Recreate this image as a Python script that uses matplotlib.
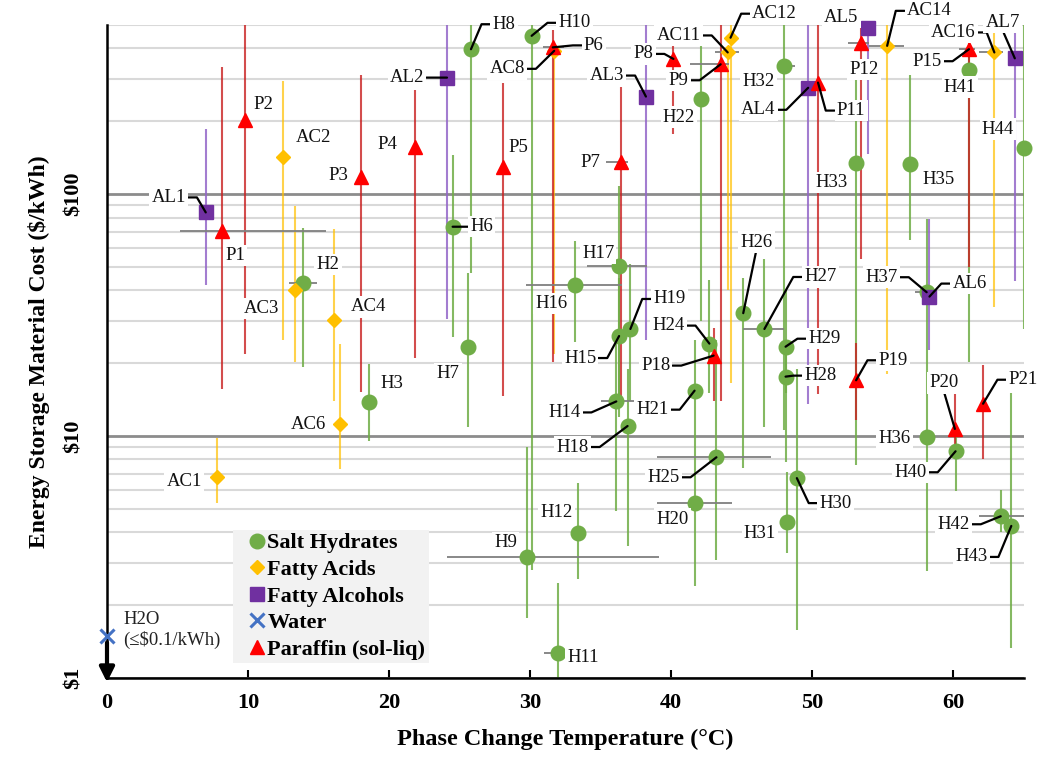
import matplotlib.pyplot as plt
from matplotlib.ticker import NullFormatter

plt.rcParams['font.family'] = ['Liberation Serif', 'DejaVu Serif']

# ---- data (temperature in C, cost in $/kWh, vertical and horizontal ranges) ----
hyd_names = ['H2', 'H3', 'H6', 'H7', 'H8', 'H9', 'H10', 'H11', 'H12', 'H14',
             'H15', 'H16', 'H17', 'H18', 'H19', 'H20', 'H21', 'H22', 'H24', 'H25',
             'H26', 'H27', 'H28', 'H29', 'H30', 'H31', 'H32', 'H33', 'H35', 'H36',
             'H37', 'H40', 'H41', 'H42', 'H43', 'H44']
hyd_temp = [13.9, 18.6, 24.5, 25.6, 25.8, 29.8, 30.1, 32.0, 33.4, 36.1,
            36.3, 33.2, 36.3, 36.9, 37.1, 41.7, 41.65, 42.1, 42.7, 43.2,
            45.1, 46.6, 48.1, 48.1, 48.9, 48.2, 48.0, 53.1, 56.95, 58.1,
            58.1, 60.15, 61.1, 63.35, 64.1, 65.0]
hyd_cost = [42.8, 13.8, 73.3, 23.4, 397, 3.17, 451, 1.27, 3.96, 13.9,
            25.9, 42.2, 50.3, 11.0, 27.7, 5.28, 15.4, 247, 24.1, 8.17,
            32.2, 27.7, 17.6, 23.4, 6.7, 4.42, 337, 135, 133, 9.9,
            39.3, 8.65, 325, 4.66, 4.25, 155]
hyd_lo = [19.2, 9.5, 25.6, 10.9, 47, 1.77, 2.8, 0.8, 2.56, 4.9,
          12, 24.4, 14, 3.5, 14, 2.4, 8.5, 30, 15, 3.07,
          7.4, 10.9, 7.8, 15, 1.58, 3.3, 10.6, 7.6, 64.6, 2.76,
          20.3, 5.9, 20.3, 4.03, 1.33, 27.6]
hyd_hi = [72.6, 19.9, 145, 47, 500, 9.0, 500, 2.47, 6.4, 27,
          45, 64, 108, 19, 51.5, 8.5, 25, 500, 44, 25,
          44.8, 54, 25, 40, 19, 7.1, 500, 318, 312, 20.3,
          79, 10, 400, 6.0, 15.1, 500]

ac_names = ['AC1', 'AC2', 'AC3', 'AC4', 'AC6', 'AC8', 'AC11', 'AC12', 'AC14', 'AC16']
ac_temp = [7.8, 12.5, 13.3, 16.1, 16.55, 31.7, 44.0, 44.2, 55.3, 62.9]
ac_cost = [6.78, 143, 40, 30.2, 11.25, 391, 385, 443, 410, 385]
ac_lo = [5.27, 25, 20.3, 13.9, 7.3, 21.9, 40, 16.5, 18.1, 34.2]
ac_hi = [9.8, 294, 89.6, 72, 23.9, 400, 400, 500, 500, 500]

al_names = ['AL1', 'AL2', 'AL3', 'AL4', 'AL5', 'AL6', 'AL7']
al_temp = [7.0, 24.1, 38.2, 49.7, 53.95, 58.3, 64.35]
al_cost = [84, 303, 253, 275, 484, 37.7, 364]
al_lo = [41.9, 30.6, 24.9, 13.6, 146, 22.6, 43.6]
al_hi = [186, 500, 500, 500, 500, 79, 500]

p_names = ['P1', 'P2', 'P3', 'P4', 'P5', 'P6', 'P7', 'P8', 'P9', 'P11',
           'P12', 'P15', 'P18', 'P19', 'P20', 'P21']
p_temp = [8.15, 9.8, 18.0, 21.8, 28.1, 31.6, 36.4, 40.15, 43.5, 50.4,
          53.45, 61.1, 43.0, 53.1, 60.1, 62.1]
p_cost = [70.6, 202, 118, 157, 130, 404, 136, 362, 344, 289,
          420, 397, 21.5, 17.0, 10.7, 13.6]
p_lo = [15.7, 21.9, 15.2, 21.1, 14.6, 20.2, 14.7, 177, 14, 14.9,
        53.9, 50, 14, 11.7, 8.0, 8.0]
p_hi = [334, 500, 312, 270, 288, 476, 276, 500, 500, 500,
        500, 500, 27.9, 24.3, 14.9, 19.6]

water_temp = [0]
water_cost = [1.49]

# horizontal (temperature) ranges
hbar_names = ['P1', 'H2', 'H9', 'H11', 'H14', 'H16', 'H17', 'H20', 'H25', 'H27',
              'H32', 'H37', 'H42', 'AC11', 'AC14', 'P6', 'P7', 'P9', 'P12', 'P15', 'AC16']
hbar_lo = [5.2, 12.9, 24.1, 31.0, 35.0, 29.7, 34.0, 39.0, 39.0, 45.1,
           47.5, 57.3, 61.8, 43.1, 54.0, 30.9, 35.4, 41.3, 52.5, 60.4, 61.8]
hbar_hi = [15.5, 14.9, 39.1, 32.0, 38.1, 36.5, 38.3, 44.3, 47.1, 48.0,
           48.8, 58.1, 65.0, 44.8, 56.5, 32.4, 36.9, 44.1, 54.0, 61.5, 63.5]

# label placement: offset in pixels from the point, leader side
label_pos = {
    'H2': (25, 19, None), 'H3': (22, 19, None), 'H6': (29, 0, 'l'),
    'H7': (-20, -27, None), 'H8': (33, 25, 'l'), 'H9': (-22, 14, None),
    'H10': (43, 13, 'l'), 'H11': (25, -5, None), 'H12': (-22, 21, None),
    'H14': (-52, -11, 'r'), 'H15': (-39, -22, 'r'), 'H16': (-24, -19, None),
    'H17': (-21, 13, None), 'H18': (-55, -21, 'r'), 'H19': (39, 30, 'l'),
    'H20': (-23, -16, None), 'H21': (-42, -19, 'r'), 'H22': (-22, -18, None),
    'H24': (-41, 18, 'r'), 'H25': (-53, -20, 'r'), 'H26': (13, 71, 'b'),
    'H27': (56, 52, 'l'), 'H28': (35, 1, 'l'), 'H29': (39, 8, 'l'),
    'H30': (39, -25, 'l'), 'H31': (-27, -12, None), 'H32': (-26, -15, None),
    'H33': (-25, -20, None), 'H35': (28, -15, None), 'H36': (-32, -1, None),
    'H37': (-45, 15, 'r'), 'H40': (-45, -21, 'r'), 'H41': (-9, -17, None),
    'H42': (-47, -8, 'r'), 'H43': (-40, -31, 'r'), 'H44': (-26, 19, None),
    'AC1': (-33, -5, None), 'AC2': (30, 19, None), 'AC3': (-33, -18, None),
    'AC4': (34, 13, None), 'AC6': (-32, -1, None), 'AC8': (-47, -18, 'r'),
    'AC11': (-49, 17, 'r'), 'AC12': (44, 24, 'l'), 'AC14': (42, 35, 'l'),
    'AC16': (-41, 20, 'r'),
    'AL1': (-37, 15, 'r'), 'AL2': (-40, 0, 'r'), 'AL3': (-39, 21, 'r'),
    'AL4': (-50, -22, 'r'), 'AL5': (-27, 11, None), 'AL6': (40, 13, 'l'),
    'AL7': (-12, 36, 'b'),
    'P1': (13, -25, None), 'P2': (18, 16, None), 'P3': (-23, 1, None),
    'P4': (-27, 2, None), 'P5': (15, 19, None), 'P6': (41, 2, 'l'),
    'P7': (-30, -1, None), 'P8': (-30, 5, 'r'), 'P9': (-42, -16, 'r'),
    'P11': (33, -28, 'l'), 'P12': (3, -26, None), 'P15': (-42, -12, 'r'),
    'P18': (-58, -10, 'r'), 'P19': (37, 20, 'l'), 'P20': (-11, 46, 'b'),
    'P21': (40, 24, 'l'),
}

series = [
    (hyd_names, hyd_temp, hyd_cost, hyd_lo, hyd_hi, 'o', 10.5, '#70ad47', '#70ad47', 0.85, 'Salt Hydrates'),
    (ac_names, ac_temp, ac_cost, ac_lo, ac_hi, 'D', 7.5, '#ffc000', '#ffc000', 0.7, 'Fatty Acids'),
    (al_names, al_temp, al_cost, al_lo, al_hi, 's', 10.5, '#7030a0', '#9366c8', 0.85, 'Fatty Alcohols'),
    (p_names, p_temp, p_cost, p_lo, p_hi, '^', 10.5, '#ff0000', '#c82020', 0.8, 'Paraffin (sol-liq)'),
]

fig = plt.figure(figsize=(10.51, 7.64), dpi=100)
ax = fig.add_axes([0.1018, 0.1126, 0.8725, 0.8547])
ax.set_yscale('log')
ax.set_xlim(0, 65)
ax.set_ylim(1, 500)

# gridlines
minor = [m * d for d in (1, 10) for m in range(2, 10)] + [200, 300, 400, 500]
ax.set_yticks([1, 10, 100])
ax.set_yticks(minor, minor=True)
ax.yaxis.set_minor_formatter(NullFormatter())
ax.set_yticklabels(['$1', '$10', '$100'], rotation=90, va='center',
                   fontsize=16, fontweight='bold')
ax.tick_params(axis='y', which='both', length=0, pad=17)
ax.grid(axis='y', which='major', color='#8c8c8c', lw=2)
ax.grid(axis='y', which='minor', color='#d9d9d9', lw=1.5)
ax.set_axisbelow(True)

ax.set_xticks(range(0, 61, 10))
ax.set_xticklabels([str(v) for v in range(0, 61, 10)], fontsize=16, fontweight='bold')
ax.tick_params(axis='x', direction='in', length=6, width=1.5, pad=11)
for s in ['top', 'right']:
    ax.spines[s].set_visible(False)
for s in ['left', 'bottom']:
    ax.spines[s].set_linewidth(1.8)
    ax.spines[s].set_color('black')

# vertical ranges and markers
lookup = {}
handles = []
for names, temp, cost, lo, hi, mk, ms, col, lcol, la, lab in series:
    ax.vlines(temp, lo, hi, colors=lcol, lw=1.5, alpha=la, zorder=2)
    for n, t, c in zip(names, temp, cost):
        lookup[n] = (t, c)

# horizontal ranges
hb_y = [lookup[n][1] for n in hbar_names]
ax.hlines(hb_y, hbar_lo, hbar_hi, colors='#7f7f7f', lw=1.3, zorder=2)

for names, temp, cost, lo, hi, mk, ms, col, lcol, la, lab in series:
    h, = ax.plot(temp, cost, ls='none', marker=mk, ms=ms, color=col, mec=col,
                 zorder=3, clip_on=False, label=lab)
    handles.append(h)

hw, = ax.plot(water_temp, water_cost, ls='none', marker='x', ms=10, mew=2.2,
              color='#4472c4', zorder=4, clip_on=False, label='Water')
handles.insert(3, hw)

# water arrow and note
ax.annotate('', xy=(water_temp[0], 0.96), xytext=(water_temp[0], 1.4),
            arrowprops=dict(arrowstyle='-|>', lw=3, color='black', mutation_scale=22,
                            shrinkA=0, shrinkB=0),
            annotation_clip=False, zorder=5)
ax.annotate('H2O\n(≤$0.1/kWh)', xy=(water_temp[0], water_cost[0]), xytext=(16, 6),
            textcoords='offset pixels', ha='left', va='center', fontsize=13.5,
            color='#222222', linespacing=1.15, zorder=5)

# point labels
for name, (dx, dy, side) in label_pos.items():
    t, c = lookup[name]
    kw = dict(xy=(t, c), xytext=(dx, dy), textcoords='offset pixels',
              ha='center', va='center', fontsize=13.5, color='#111111',
              bbox=dict(boxstyle='square,pad=0.12', fc='white', ec='none'),
              zorder=6, annotation_clip=False)
    if side == 'r':
        kw['arrowprops'] = dict(arrowstyle='-', color='black', lw=1.6, shrinkA=0, shrinkB=0,
                                relpos=(1, 0.5), connectionstyle='arc,angleA=0,armA=11,rad=0')
    elif side == 'l':
        kw['arrowprops'] = dict(arrowstyle='-', color='black', lw=1.6, shrinkA=0, shrinkB=0,
                                relpos=(0, 0.5), connectionstyle='arc,angleA=180,armA=11,rad=0')
    elif side == 'b':
        kw['arrowprops'] = dict(arrowstyle='-', color='black', lw=1.6, shrinkA=0, shrinkB=0,
                                relpos=(0.5, 0), connectionstyle='arc3,rad=0')
    ax.annotate(name, **kw)

leg = ax.legend(handles=handles, loc='lower left', bbox_to_anchor=(0.137, 0.023),
                borderaxespad=0, frameon=True, fancybox=False, framealpha=1,
                facecolor='#f2f2f2', edgecolor='none', handlelength=1.85,
                handletextpad=-0.44, labelspacing=0.27, borderpad=0.15,
                prop={'weight': 'bold', 'size': 16})
leg.set_zorder(7)

ax.set_xlabel('Phase Change Temperature (°C)', fontsize=17.5, fontweight='bold')
ax.xaxis.set_label_coords(0.4995, -0.078)
ax.set_ylabel('Energy Storage Material Cost ($/kWh)', fontsize=17, fontweight='bold')
ax.yaxis.set_label_coords(-0.062, 0.5)

fig.savefig('out.png', dpi=100)
